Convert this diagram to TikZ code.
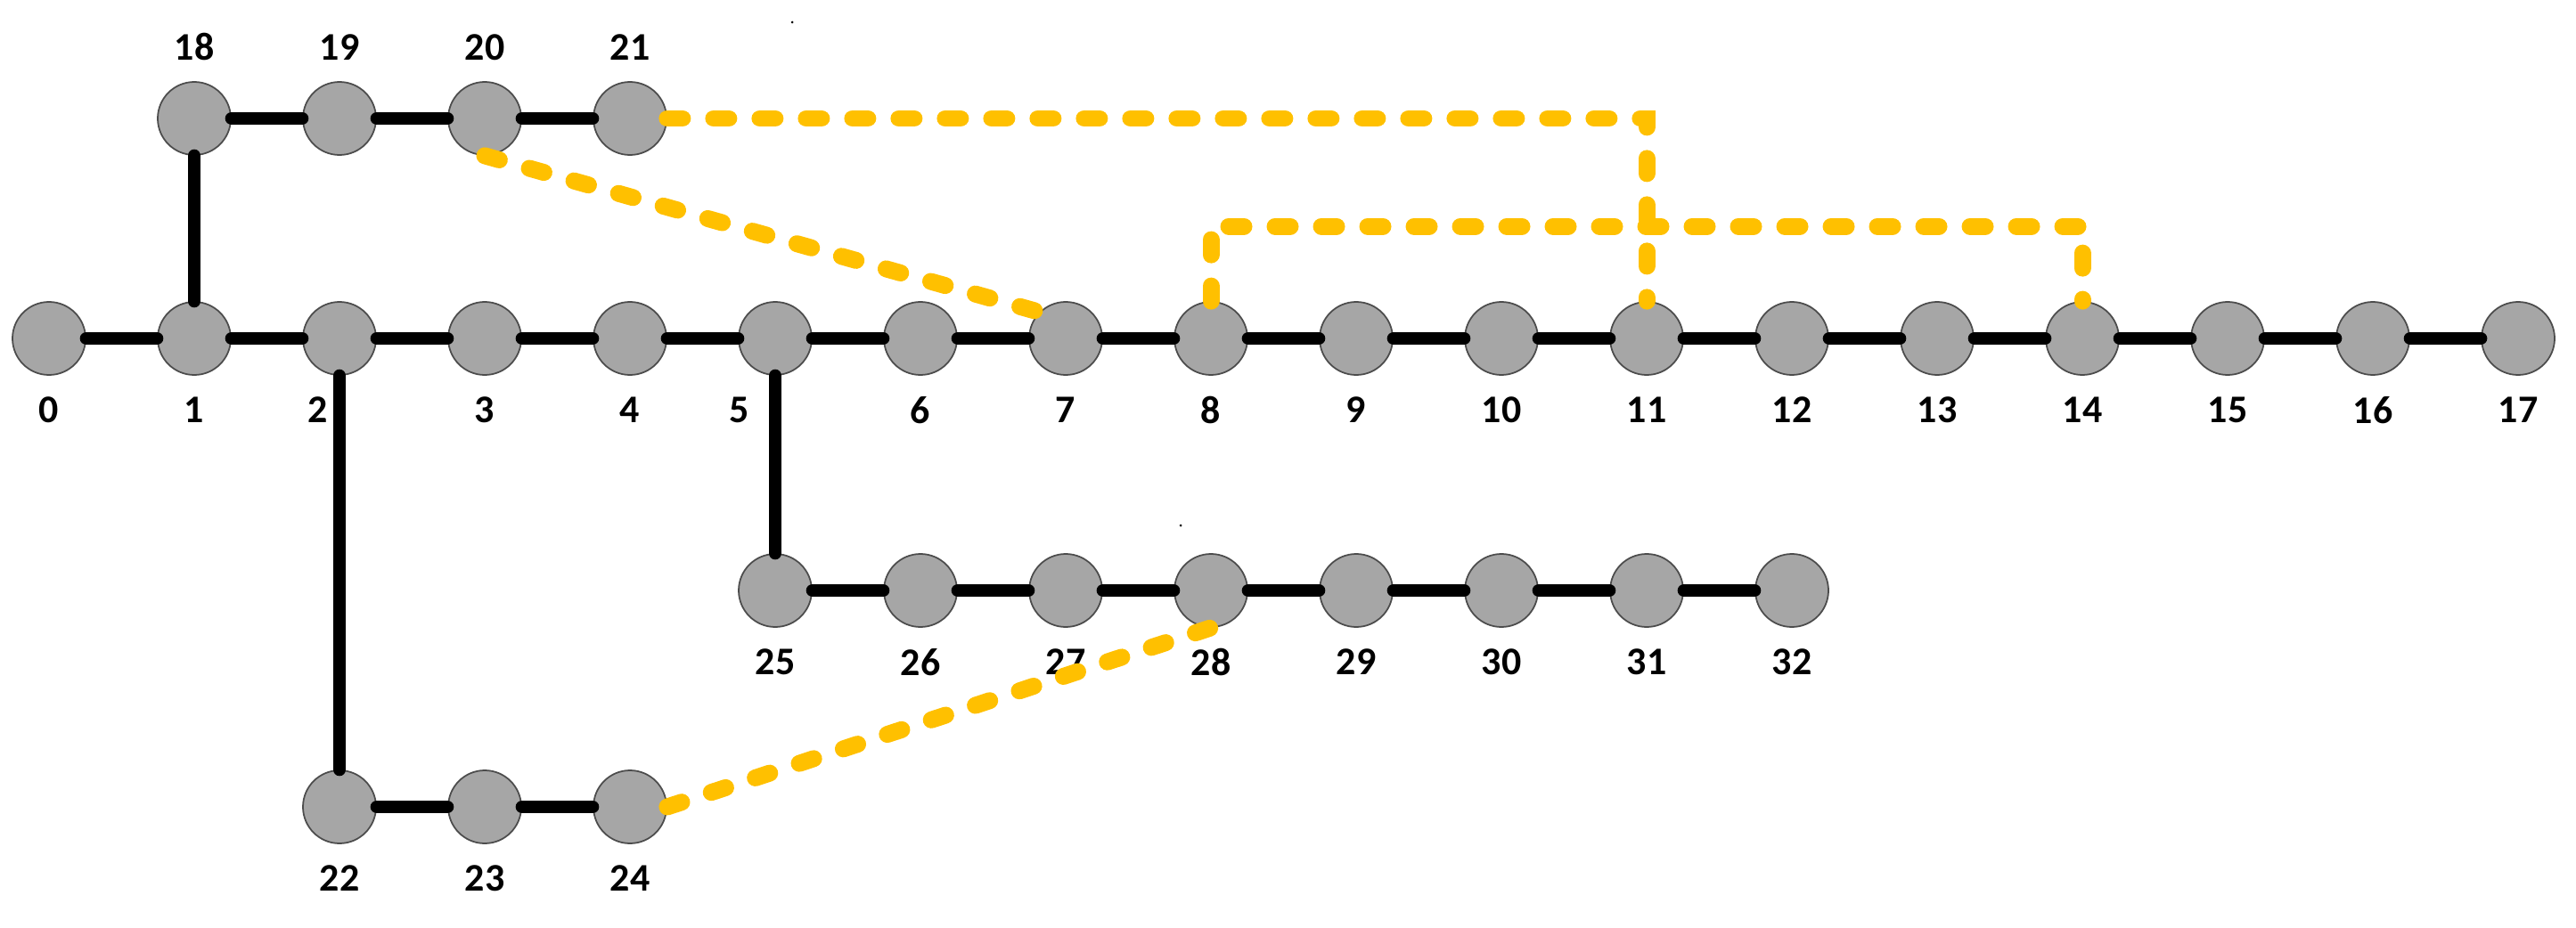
\documentclass[tikz,border=0pt]{standalone}
\usepackage{fontspec}
\setmainfont{Carlito}
\usepackage{xcolor}
\usetikzlibrary{positioning}
\definecolor{tieyellow}{HTML}{FFC000}
\definecolor{busgray}{HTML}{A6A6A6}

\begin{document}
\begin{tikzpicture}[
    bus/.style={circle, draw=black!70, line width=0.5pt, fill=busgray, minimum size=0.82cm, inner sep=0pt},
    every label/.style={font=\fontsize{12.5}{15}\selectfont\bfseries, inner sep=0.23cm},
    line/.style={line width=4.1pt, line cap=round},
    tie/.style={draw=tieyellow, line width=5.4pt, line cap=round, dash pattern=on 0.17cm off 0.35cm},
    node distance=1.63cm, on grid
]
    \useasboundingbox (0,0) rectangle (28.91,10.41);

    % Main feeder 0-17
    \node[bus, label={below:0}] (b0) at (0.55,6.61) {};
    \foreach \i/\dx [evaluate=\i as \j using int(\i-1)] in {1/0,2/-0.24,3/0,4/0,5/-0.4,6/0,7/0,8/0,9/0,10/0,11/0,12/0,13/0,14/0,15/0,16/0,17/0}
        \node[bus, right=of b\j, label={[xshift=\dx cm]below:\i}] (b\i) {};

    % Lateral 18-21
    \node[bus, above=2.47cm of b1, label={above:18}] (b18) {};
    \foreach \i [evaluate=\i as \j using int(\i-1)] in {19,20,21}
        \node[bus, right=of b\j, label={above:\i}] (b\i) {};

    % Lateral 22-24
    \node[bus, below=5.26cm of b2, label={below:22}] (b22) {};
    \foreach \i [evaluate=\i as \j using int(\i-1)] in {23,24}
        \node[bus, right=of b\j, label={below:\i}] (b\i) {};

    % Lateral 25-32
    \node[bus, below=2.83cm of b5, label={below:25}] (b25) {};
    \foreach \i [evaluate=\i as \j using int(\i-1)] in {26,...,32}
        \node[bus, right=of b\j, label={below:\i}] (b\i) {};

    % Branches
    \foreach \a/\b in {0/1,1/2,2/3,3/4,4/5,5/6,6/7,7/8,8/9,9/10,10/11,11/12,12/13,13/14,14/15,15/16,16/17,
                       1/18,18/19,19/20,20/21,2/22,22/23,23/24,5/25,25/26,26/27,27/28,28/29,29/30,30/31,31/32}
        \draw[line] (b\a) -- (b\b);

    % Tie lines
    \draw[tie] (b21.east) -| (b11.north);
    \draw[tie] (b20.south) -- (b7.north west);
    \draw[tie] (b8.north) -- ++(0,0.84) -| (b14.north);
    \draw[tie] (b24.east) -- (b28.south);

    \fill (8.89,10.16) circle (0.015);
    \fill (13.25,4.51) circle (0.015);
\end{tikzpicture}
\end{document}
